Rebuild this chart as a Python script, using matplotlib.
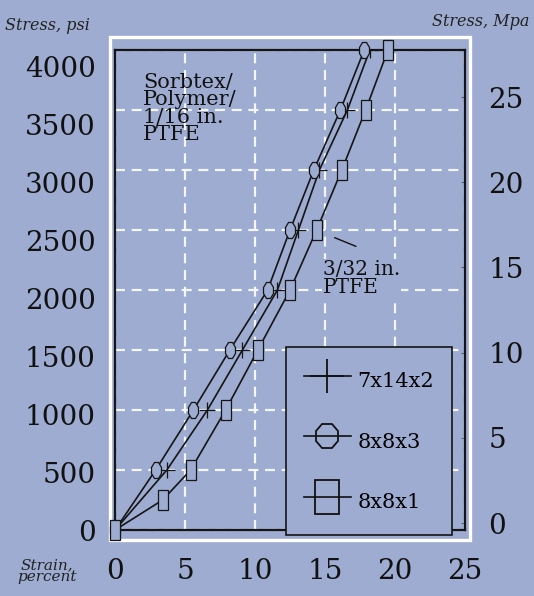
import numpy as np
import matplotlib
matplotlib.use('Agg')
import matplotlib.pyplot as plt
from matplotlib.lines import Line2D
from matplotlib.markers import MarkerStyle
from matplotlib.patches import Rectangle
from matplotlib.transforms import Affine2D

plt.rcParams['font.family'] = ['DejaVu Serif']

# stress levels (psi) and measured strain (percent) for each gasket
stress_psi = [0, 500, 1000, 1500, 2000, 2500, 3000, 3500, 4000]
strain_7x14x2 = [0, 3.7, 6.6, 9.1, 11.6, 13.1, 14.6, 16.6, 18.2]
strain_8x8x3 = [0, 2.9, 5.6, 8.2, 10.9, 12.5, 14.2, 16.1, 17.8]
stress_8x8x1 = [0, 250, 500, 1000, 1500, 2000, 2500, 3000, 3500, 4000]
strain_8x8x1 = [0, 3.4, 5.4, 7.9, 10.2, 12.5, 14.4, 16.2, 17.9, 19.5]

x_ticks = [0, 5, 10, 15, 20, 25]
psi_ticks = [0, 500, 1000, 1500, 2000, 2500, 3000, 3500, 4000]
mpa_ticks = [0, 5, 10, 15, 20, 25]
labels = ['7x14x2', '8x8x3', '8x8x1']

bg = '#9dacd0'
ink = '#111111'

fig = plt.figure(figsize=(5.34, 5.96), dpi=100, facecolor=bg)
ax = fig.add_axes([0.2154, 0.1107, 0.6554, 0.8054], facecolor=bg)
ax.set_xlim(0, 25)
ax.set_ylim(0, 4000)

# gridlines (white dashes)
ax.set_xticks(x_ticks)
ax.set_yticks(psi_ticks)
ax.set_axisbelow(True)
ax.grid(True, color='#f4f6fb', linestyle=(0, (4.5, 3)), linewidth=1.6)
ax.tick_params(axis='both', length=0)
ax.tick_params(axis='x', labelsize=20, pad=20, labelcolor=ink)
ax.set_yticklabels([])
for s in ax.spines.values():
    s.set_linewidth(1.6)
    s.set_color('#151515')

# outer white frame
ax.add_patch(Rectangle((-0.0143, -0.0208), 1.0286, 1.0478, transform=ax.transAxes,
                       fill=False, edgecolor='white', linewidth=2.4, clip_on=False))

# psi labels on the left, MPa on the right
psi_scale = 0.9646
left = ax.secondary_yaxis('left', functions=(lambda p: p / psi_scale, lambda v: v * psi_scale))
left.set_yticks(psi_ticks)
left.tick_params(length=0, labelsize=20, pad=14, labelcolor=ink)
left.spines['left'].set_visible(False)

psi_per_mpa = 142.0
psi_offset = 58.0
right = ax.secondary_yaxis('right', functions=(lambda p: (p - psi_offset) / psi_per_mpa,
                                               lambda m: m * psi_per_mpa + psi_offset))
right.set_yticks(mpa_ticks)
right.tick_params(direction='in', length=3, width=0.7, color='#555a66', labelsize=20,
                  pad=17, labelcolor=ink)
right.spines['right'].set_visible(False)

# markers are taller than wide
oct_small = MarkerStyle('8', transform=Affine2D().scale(0.56, 1.0))
sq_small = MarkerStyle('s', transform=Affine2D().scale(0.48, 1.0))

line_kw = dict(color='#151515', linewidth=1.2, zorder=3)
ax.plot(strain_7x14x2, stress_psi, marker='+', markersize=11, markeredgewidth=0.9, **line_kw)
ax.plot(strain_8x8x3, stress_psi, marker=oct_small, markersize=13, markerfacecolor=bg,
        markeredgewidth=0.9, clip_on=False, **line_kw)
ax.plot(strain_8x8x1, stress_8x8x1, marker=sq_small, markersize=15, markerfacecolor=bg,
        markeredgewidth=0.9, clip_on=False, **line_kw)

# notes on the curves
ax.text(2.0, 3810, 'Sorbtex/\nPolymer/\n1/16 in.\nPTFE', fontsize=15, va='top', ha='left',
        linespacing=0.9, color=ink)
ax.text(14.85, 2250, '3/32 in.\nPTFE', fontsize=14.5, va='top', ha='left',
        linespacing=0.9, color=ink, bbox=dict(facecolor=bg, edgecolor='none', pad=0.5))
ax.annotate('', xy=(15.5, 2445), xytext=(17.4, 2355),
            arrowprops=dict(arrowstyle='-', color=ink, linewidth=1.0))

# legend with enlarged symbols
oct_big = MarkerStyle('8', transform=Affine2D().scale(0.9, 1.0))
sq_big = MarkerStyle('s', transform=Affine2D().scale(0.7, 1.0))
handles = [
    Line2D([], [], color=ink, linewidth=1.2, marker='+', markersize=24, markeredgewidth=1.3),
    Line2D([], [], color=ink, linewidth=1.2, marker=oct_big, markersize=19,
           markerfacecolor='none', markeredgewidth=1.3),
    Line2D([], [], color=ink, linewidth=1.2, marker=sq_big, markersize=24,
           markerfacecolor='none', markeredgewidth=1.3),
]
leg = ax.legend(handles, labels, loc='lower left', bbox_to_anchor=(0.5356, 0.1023),
                bbox_transform=fig.transFigure, borderaxespad=0, fontsize=15,
                handlelength=2.3, handleheight=2.0, labelspacing=1.36, borderpad=0.84,
                handletextpad=0.3, fancybox=False, framealpha=1, facecolor=bg,
                edgecolor='#151515')
leg.get_frame().set_linewidth(1.2)
leg.set_zorder(5)

# axis titles
fig.text(5 / 534, 1 - 25 / 596, 'Stress, psi', fontsize=11.5, style='italic', color='#222222',
         ha='left', va='center')
fig.text(432 / 534, 1 - 22 / 596, 'Stress, Mpa', fontsize=11.5, style='italic',
         color='#222222', ha='left', va='center')
fig.text(47 / 534, 1 - 571 / 596, 'Strain,\npercent', fontsize=11, style='italic',
         color='#222222', ha='center', va='center', linespacing=0.85)

fig.savefig('out.png', dpi=100, facecolor=bg)
